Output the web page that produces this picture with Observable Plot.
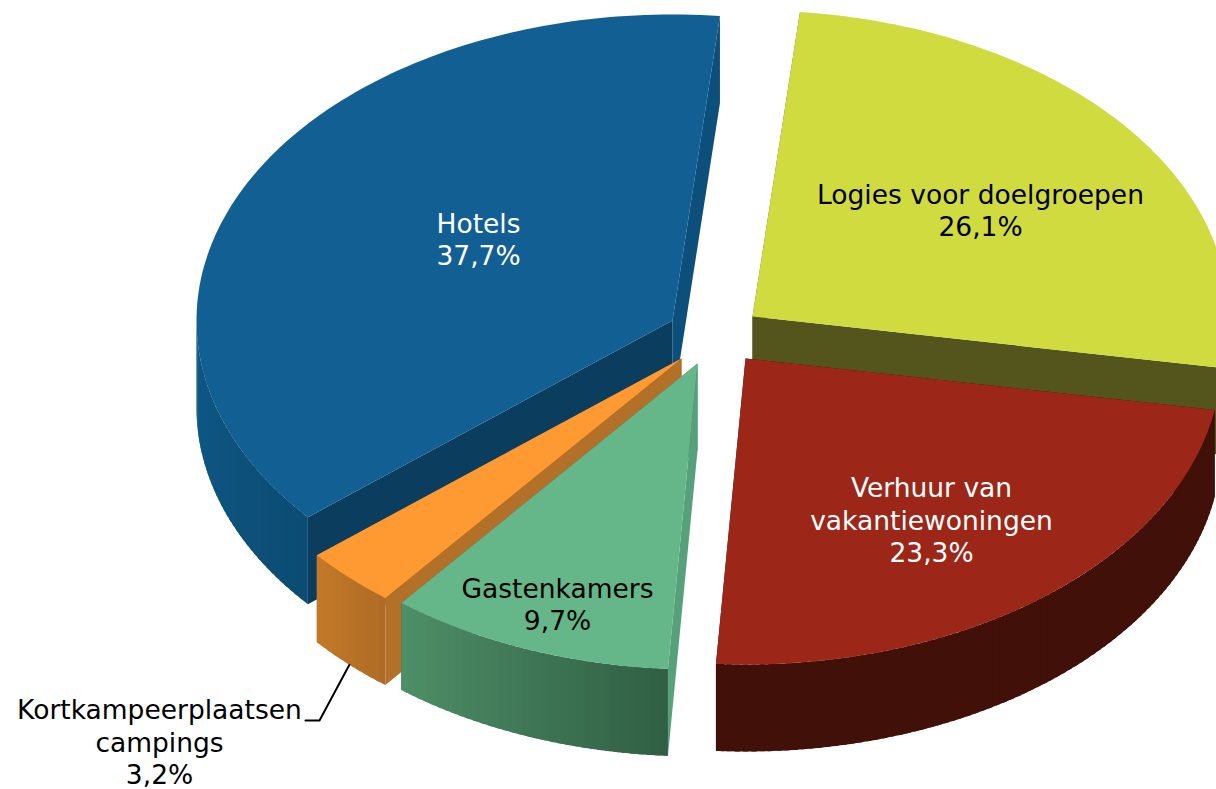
<!DOCTYPE html>
<html>
<head>
<meta charset="utf-8">
<script src="https://cdn.jsdelivr.net/npm/d3@7"></script>
<script src="https://cdn.jsdelivr.net/npm/@observablehq/plot@0.6"></script>
<style>
html,body{margin:0;padding:0;background:#fff}
svg{display:block}
</style>
</head>
<body>
<div id="chart"></div>
<script>
// Data
const categories = ["Hotels", "Logies voor doelgroepen", "Verhuur van vakantiewoningen", "Gastenkamers", "Kortkampeerplaatsen campings"];
const shares = [37.7, 26.1, 23.3, 9.7, 3.2];
const shareLabels = ["37,7%", "26,1%", "23,3%", "9,7%", "3,2%"];
const labelLines = [["Hotels"], ["Logies voor doelgroepen"], ["Verhuur van", "vakantiewoningen"], ["Gastenkamers"], ["Kortkampeerplaatsen", "campings"]];

// Pie projection and styling
const W = 1216, H = 789;
const rx = 476, ry = 306, depth = 87, startAngle = 230;
const apexes = [[672, 320], [752, 316], [745, 358], [697, 363], [681, 358]];
const labelOffsets = [[-194, -82], [228, -107], [186, 160.5], [-140, 240], [-522, 382.5]];
const labelColors = ["#fff", "#000", "#fff", "#000", "#000"];
const topColors = ["#126093", "#d0db40", "#9c2718", "#65b789", "#fe9a31"];
const startFace = ["#0b3d5f", "#54551c", "#3f100a", "#56a07a", "#b37029"];
const endFace = ["#0d4f7b", "#54551c", "#3f100a", "#3a6e50", "#b37029"];
const wallA = ["#0c4c73", "#401009", "#401009", "#306044", "#b06c26"];   // right-hand side of a wall
const wallB = ["#0f5a88", "#401009", "#401009", "#4f9068", "#c47a28"];   // left-hand side of a wall

const rim = (i, t, z = 0) => {
  const a = t * Math.PI / 180;
  return [apexes[i][0] + rx * Math.sin(a), apexes[i][1] - ry * Math.cos(a) + z];
};

// Slice angle spans from the shares
const spans = [];
let acc = startAngle;
shares.forEach(v => { const d = v * 3.6; spans.push(acc >= 360 ? [acc - 360, acc - 360 + d] : [acc, acc + d]); acc += d; });

const polys = [];
let pid = 0;
const addPoly = (pts, color) => { const id = pid++; pts.forEach(([x, y]) => polys.push({id, x, y, color})); };
const steps = (a, b, n) => d3.range(n + 1).map(k => a + (b - a) * k / n);

const drawOrder = [0, 1, 2, 4, 3];
drawOrder.forEach(i => {
  const [a, b] = spans[i];
  const ap = apexes[i];
  const apB = [ap[0], ap[1] + depth];
  // cut faces
  const r0 = rim(i, a), r0b = rim(i, a, depth), r1 = rim(i, b), r1b = rim(i, b, depth);
  addPoly([ap, r1, r1b, apB], endFace[i]);
  addPoly([ap, r0, r0b, apB], startFace[i]);
  // outer wall in narrow overlapping bands (front half only)
  const lo = Math.max(a, 90), hi = Math.min(b, 270);
  if (hi > lo) {
    const c = d3.interpolateRgb(wallA[i], wallB[i]);
    const ts = d3.range(lo, hi, 1).concat([hi]);
    for (let k = 0; k < ts.length - 1; k++) {
      const frac = (ts[k] - lo) / (hi - lo);
      const t0 = ts[k], t1 = Math.min(hi, ts[k + 1] + 0.6);
      const mid = steps(t0, t1, 3);
      addPoly([...mid.map(t => rim(i, t)), ...mid.slice().reverse().map(t => rim(i, t, depth))], c(frac));
    }
  }
  // top surface
  addPoly([ap, ...steps(a, b, 120).map(t => rim(i, t))], topColors[i]);
});

const labels = categories.map((c, i) => ({
  text: [...labelLines[i], shareLabels[i]].join("\n"),
  x: apexes[i][0] + labelOffsets[i][0],
  y: apexes[i][1] + labelOffsets[i][1],
  fill: labelColors[i]
}));

// Leader for the smallest slice: from the bottom of its rim to beside its label
const anchor = rim(4, (spans[4][0] + spans[4][1]) / 2, depth);
const elbowY = labels[4].y - 20.5;
const leader = [
  {x: labels[4].x + 146, y: elbowY},
  {x: labels[4].x + 160, y: elbowY},
  {x: anchor[0], y: anchor[1]}
];

const chart = Plot.plot({
  width: W,
  height: H,
  margin: 0,
  style: {background: "#fff", overflow: "hidden"},
  x: {domain: [0, W], range: [0, W], axis: null},
  y: {domain: [0, H], range: [0, H], axis: null},
  color: {type: "identity"},
  marks: [
    Plot.line(polys, {x: "x", y: "y", z: "id", fill: "color", stroke: "none"}),
    Plot.line(leader, {x: "x", y: "y", stroke: "#000", strokeWidth: 2}),
    Plot.text(labels, {
      x: "x", y: "y", text: "text", fill: "fill",
      fontSize: 26.5, fontFamily: "DejaVu Sans", lineHeight: 1.24, textAnchor: "middle"
    })
  ]
});
document.getElementById("chart").append(chart);
</script>
</body>
</html>
